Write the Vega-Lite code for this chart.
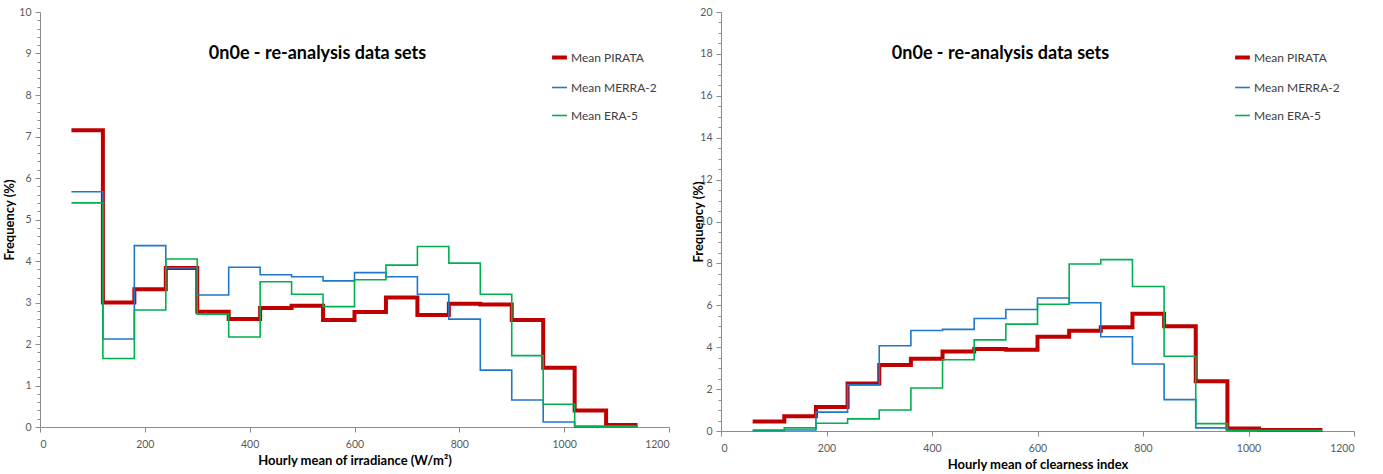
{
  "$schema": "https://vega.github.io/schema/vega-lite/v6.json",
  "padding": {"left": 3, "top": 7, "right": 5, "bottom": 5},
  "spacing": 22,
  "config": {
    "view": {"stroke": null},
    "font": "Lato",
    "axis": {
      "grid": false,
      "domainColor": "#8c8c8c",
      "tickColor": "#8c8c8c",
      "labelColor": "#595959",
      "labelFontSize": 10.5,
      "titleFontSize": 13,
      "titleFontWeight": "bold",
      "titleColor": "#000000",
      "tickSize": 5,
      "format": "d"
    },
    "legend": {"labelFontSize": 12, "labelColor": "#404040"}
  },
  "datasets": {
    "irr": [
      {"series": "Mean PIRATA", "x": 60, "y": 7.15}, {"series": "Mean PIRATA", "x": 120, "y": 3.0},
      {"series": "Mean PIRATA", "x": 180, "y": 3.32}, {"series": "Mean PIRATA", "x": 240, "y": 3.83},
      {"series": "Mean PIRATA", "x": 300, "y": 2.78}, {"series": "Mean PIRATA", "x": 360, "y": 2.6},
      {"series": "Mean PIRATA", "x": 420, "y": 2.87}, {"series": "Mean PIRATA", "x": 480, "y": 2.92},
      {"series": "Mean PIRATA", "x": 540, "y": 2.58}, {"series": "Mean PIRATA", "x": 600, "y": 2.77},
      {"series": "Mean PIRATA", "x": 660, "y": 3.12}, {"series": "Mean PIRATA", "x": 720, "y": 2.7},
      {"series": "Mean PIRATA", "x": 780, "y": 2.97}, {"series": "Mean PIRATA", "x": 840, "y": 2.95},
      {"series": "Mean PIRATA", "x": 900, "y": 2.58}, {"series": "Mean PIRATA", "x": 960, "y": 1.43},
      {"series": "Mean PIRATA", "x": 1020, "y": 0.4}, {"series": "Mean PIRATA", "x": 1080, "y": 0.05},
      {"series": "Mean PIRATA", "x": 1140, "y": 0.05},
      {"series": "Mean MERRA-2", "x": 60, "y": 5.67}, {"series": "Mean MERRA-2", "x": 120, "y": 2.12},
      {"series": "Mean MERRA-2", "x": 180, "y": 4.37}, {"series": "Mean MERRA-2", "x": 240, "y": 3.83},
      {"series": "Mean MERRA-2", "x": 300, "y": 3.18}, {"series": "Mean MERRA-2", "x": 360, "y": 3.85},
      {"series": "Mean MERRA-2", "x": 420, "y": 3.67}, {"series": "Mean MERRA-2", "x": 480, "y": 3.62},
      {"series": "Mean MERRA-2", "x": 540, "y": 3.52}, {"series": "Mean MERRA-2", "x": 600, "y": 3.72},
      {"series": "Mean MERRA-2", "x": 660, "y": 3.62}, {"series": "Mean MERRA-2", "x": 720, "y": 3.2},
      {"series": "Mean MERRA-2", "x": 780, "y": 2.6}, {"series": "Mean MERRA-2", "x": 840, "y": 1.37},
      {"series": "Mean MERRA-2", "x": 900, "y": 0.65}, {"series": "Mean MERRA-2", "x": 960, "y": 0.12},
      {"series": "Mean MERRA-2", "x": 1020, "y": 0.0}, {"series": "Mean MERRA-2", "x": 1080, "y": 0.0},
      {"series": "Mean MERRA-2", "x": 1140, "y": 0.0},
      {"series": "Mean ERA-5", "x": 60, "y": 5.4}, {"series": "Mean ERA-5", "x": 120, "y": 1.65},
      {"series": "Mean ERA-5", "x": 180, "y": 2.82}, {"series": "Mean ERA-5", "x": 240, "y": 4.05},
      {"series": "Mean ERA-5", "x": 300, "y": 2.72}, {"series": "Mean ERA-5", "x": 360, "y": 2.17},
      {"series": "Mean ERA-5", "x": 420, "y": 3.5}, {"series": "Mean ERA-5", "x": 480, "y": 3.2},
      {"series": "Mean ERA-5", "x": 540, "y": 2.9}, {"series": "Mean ERA-5", "x": 600, "y": 3.55},
      {"series": "Mean ERA-5", "x": 660, "y": 3.9}, {"series": "Mean ERA-5", "x": 720, "y": 4.35},
      {"series": "Mean ERA-5", "x": 780, "y": 3.95}, {"series": "Mean ERA-5", "x": 840, "y": 3.2},
      {"series": "Mean ERA-5", "x": 900, "y": 1.72}, {"series": "Mean ERA-5", "x": 960, "y": 0.55},
      {"series": "Mean ERA-5", "x": 1020, "y": 0.02}, {"series": "Mean ERA-5", "x": 1080, "y": 0.02},
      {"series": "Mean ERA-5", "x": 1140, "y": 0.02}
    ],
    "kt": [
      {"series": "Mean PIRATA", "x": 60, "y": 0.45}, {"series": "Mean PIRATA", "x": 120, "y": 0.7},
      {"series": "Mean PIRATA", "x": 180, "y": 1.15}, {"series": "Mean PIRATA", "x": 240, "y": 2.27},
      {"series": "Mean PIRATA", "x": 300, "y": 3.15}, {"series": "Mean PIRATA", "x": 360, "y": 3.45},
      {"series": "Mean PIRATA", "x": 420, "y": 3.8}, {"series": "Mean PIRATA", "x": 480, "y": 3.92},
      {"series": "Mean PIRATA", "x": 540, "y": 3.88}, {"series": "Mean PIRATA", "x": 600, "y": 4.5},
      {"series": "Mean PIRATA", "x": 660, "y": 4.78}, {"series": "Mean PIRATA", "x": 720, "y": 4.95},
      {"series": "Mean PIRATA", "x": 780, "y": 5.6}, {"series": "Mean PIRATA", "x": 840, "y": 5.0},
      {"series": "Mean PIRATA", "x": 900, "y": 2.37}, {"series": "Mean PIRATA", "x": 960, "y": 0.12},
      {"series": "Mean PIRATA", "x": 1020, "y": 0.05}, {"series": "Mean PIRATA", "x": 1080, "y": 0.05},
      {"series": "Mean PIRATA", "x": 1140, "y": 0.05},
      {"series": "Mean MERRA-2", "x": 60, "y": 0.02}, {"series": "Mean MERRA-2", "x": 120, "y": 0.05},
      {"series": "Mean MERRA-2", "x": 180, "y": 0.9}, {"series": "Mean MERRA-2", "x": 240, "y": 2.2},
      {"series": "Mean MERRA-2", "x": 300, "y": 4.07}, {"series": "Mean MERRA-2", "x": 360, "y": 4.8},
      {"series": "Mean MERRA-2", "x": 420, "y": 4.85}, {"series": "Mean MERRA-2", "x": 480, "y": 5.37},
      {"series": "Mean MERRA-2", "x": 540, "y": 5.8}, {"series": "Mean MERRA-2", "x": 600, "y": 6.35},
      {"series": "Mean MERRA-2", "x": 660, "y": 6.12}, {"series": "Mean MERRA-2", "x": 720, "y": 4.5},
      {"series": "Mean MERRA-2", "x": 780, "y": 3.2}, {"series": "Mean MERRA-2", "x": 840, "y": 1.5},
      {"series": "Mean MERRA-2", "x": 900, "y": 0.15}, {"series": "Mean MERRA-2", "x": 960, "y": 0.02},
      {"series": "Mean MERRA-2", "x": 1020, "y": 0.02}, {"series": "Mean MERRA-2", "x": 1080, "y": 0.02},
      {"series": "Mean MERRA-2", "x": 1140, "y": 0.02},
      {"series": "Mean ERA-5", "x": 60, "y": 0.05}, {"series": "Mean ERA-5", "x": 120, "y": 0.15},
      {"series": "Mean ERA-5", "x": 180, "y": 0.37}, {"series": "Mean ERA-5", "x": 240, "y": 0.58},
      {"series": "Mean ERA-5", "x": 300, "y": 1.0}, {"series": "Mean ERA-5", "x": 360, "y": 2.05},
      {"series": "Mean ERA-5", "x": 420, "y": 3.4}, {"series": "Mean ERA-5", "x": 480, "y": 4.35},
      {"series": "Mean ERA-5", "x": 540, "y": 5.1}, {"series": "Mean ERA-5", "x": 600, "y": 6.05},
      {"series": "Mean ERA-5", "x": 660, "y": 7.97}, {"series": "Mean ERA-5", "x": 720, "y": 8.18},
      {"series": "Mean ERA-5", "x": 780, "y": 6.9}, {"series": "Mean ERA-5", "x": 840, "y": 3.57},
      {"series": "Mean ERA-5", "x": 900, "y": 0.35}, {"series": "Mean ERA-5", "x": 960, "y": 0.02},
      {"series": "Mean ERA-5", "x": 1020, "y": 0.02}, {"series": "Mean ERA-5", "x": 1080, "y": 0.02},
      {"series": "Mean ERA-5", "x": 1140, "y": 0.02}
    ]
  },
  "hconcat": [
    {
      "width": 629,
      "height": 415,
      "data": {"name": "irr"},
      "title": {"text": "0n0e - re-analysis data sets", "fontSize": 18, "fontWeight": "bold", "offset": -56, "dx": -37, "color": "#000000"},
      "resolve": {"axis": {"y": "independent"}},
      "layer": [
        {
          "mark": {"type": "line", "opacity": 0},
          "encoding": {
            "x": {"field": "x", "type": "quantitative", "scale": {"domain": [0, 1200]}},
            "y": {"field": "y", "type": "quantitative", "scale": {"domain": [0, 10]},
              "axis": {"orient": "left", "values": [0.2,0.4,0.6,0.8,1.2,1.4,1.6,1.8,2.2,2.4,2.6,2.8,3.2,3.4,3.6,3.8,4.2,4.4,4.6,4.8,5.2,5.4,5.6,5.8,6.2,6.4,6.6,6.8,7.2,7.4,7.6,7.8,8.2,8.4,8.6,8.8,9.2,9.4,9.6,9.8], "labels": false, "domain": false, "tickSize": 3, "title": null}},
            "detail": {"field": "series"}
          }
        },
        {
          "mark": {"type": "line", "interpolate": "step-after"},
          "encoding": {
            "x": {"field": "x", "type": "quantitative", "scale": {"domain": [0, 1200]},
              "axis": {"values": [0, 200, 400, 600, 800, 1000, 1200], "title": "Hourly mean of irradiance (W/m²)", "titlePadding": 5, "labelPadding": 7}},
            "y": {"field": "y", "type": "quantitative", "scale": {"domain": [0, 10]},
              "axis": {"orient": "left", "values": [0,1,2,3,4,5,6,7,8,9,10], "title": "Frequency (%)", "titlePadding": 2, "labelPadding": 4}},
            "color": {"field": "series", "type": "nominal",
              "scale": {"domain": ["Mean PIRATA", "Mean MERRA-2", "Mean ERA-5"], "range": ["#c00000", "#1f78c8", "#00b050"]},
              "legend": {"title": null, "orient": "none", "legendX": 510, "legendY": 36, "rowPadding": 13, "symbolType": "stroke", "symbolSize": 220, "labelOffset": 2}},
            "strokeWidth": {"field": "series", "type": "nominal",
              "scale": {"type": "ordinal", "domain": ["Mean PIRATA", "Mean MERRA-2", "Mean ERA-5"], "range": [4, 1.6, 1.6]},
              "legend": null},
            "order": {"field": "x", "type": "quantitative"}
          }
        }
      ]
    },
    {
      "width": 633,
      "height": 419,
      "data": {"name": "kt"},
      "title": {"text": "0n0e - re-analysis data sets", "fontSize": 18, "fontWeight": "bold", "offset": -56, "dx": -37, "color": "#000000"},
      "resolve": {"axis": {"y": "independent"}},
      "layer": [
        {
          "mark": {"type": "line", "opacity": 0},
          "encoding": {
            "x": {"field": "x", "type": "quantitative", "scale": {"domain": [0, 1200]}},
            "y": {"field": "y", "type": "quantitative", "scale": {"domain": [0, 20]},
              "axis": {"orient": "left", "values": [0.5,1,1.5,2.5,3,3.5,4.5,5,5.5,6.5,7,7.5,8.5,9,9.5,10.5,11,11.5,12.5,13,13.5,14.5,15,15.5,16.5,17,17.5,18.5,19,19.5], "labels": false, "domain": false, "tickSize": 3, "title": null}},
            "detail": {"field": "series"}
          }
        },
        {
          "mark": {"type": "line", "interpolate": "step-after"},
          "encoding": {
            "x": {"field": "x", "type": "quantitative", "scale": {"domain": [0, 1200]},
              "axis": {"values": [0, 200, 400, 600, 800, 1000, 1200], "title": "Hourly mean of clearness index", "titlePadding": 5, "labelPadding": 7}},
            "y": {"field": "y", "type": "quantitative", "scale": {"domain": [0, 20]},
              "axis": {"orient": "left", "values": [0,2,4,6,8,10,12,14,16,18,20], "title": "Frequency (%)", "titlePadding": -6, "labelPadding": 4}},
            "color": {"field": "series", "type": "nominal",
              "scale": {"domain": ["Mean PIRATA", "Mean MERRA-2", "Mean ERA-5"], "range": ["#c00000", "#1f78c8", "#00b050"]},
              "legend": {"title": null, "orient": "none", "legendX": 512, "legendY": 36, "rowPadding": 13, "symbolType": "stroke", "symbolSize": 220, "labelOffset": 2}},
            "strokeWidth": {"field": "series", "type": "nominal",
              "scale": {"type": "ordinal", "domain": ["Mean PIRATA", "Mean MERRA-2", "Mean ERA-5"], "range": [4, 1.6, 1.6]},
              "legend": null},
            "order": {"field": "x", "type": "quantitative"}
          }
        }
      ]
    }
  ],
  "resolve": {"scale": {"color": "independent", "strokeWidth": "independent", "y": "independent"}, "legend": {"color": "independent"}}
}
